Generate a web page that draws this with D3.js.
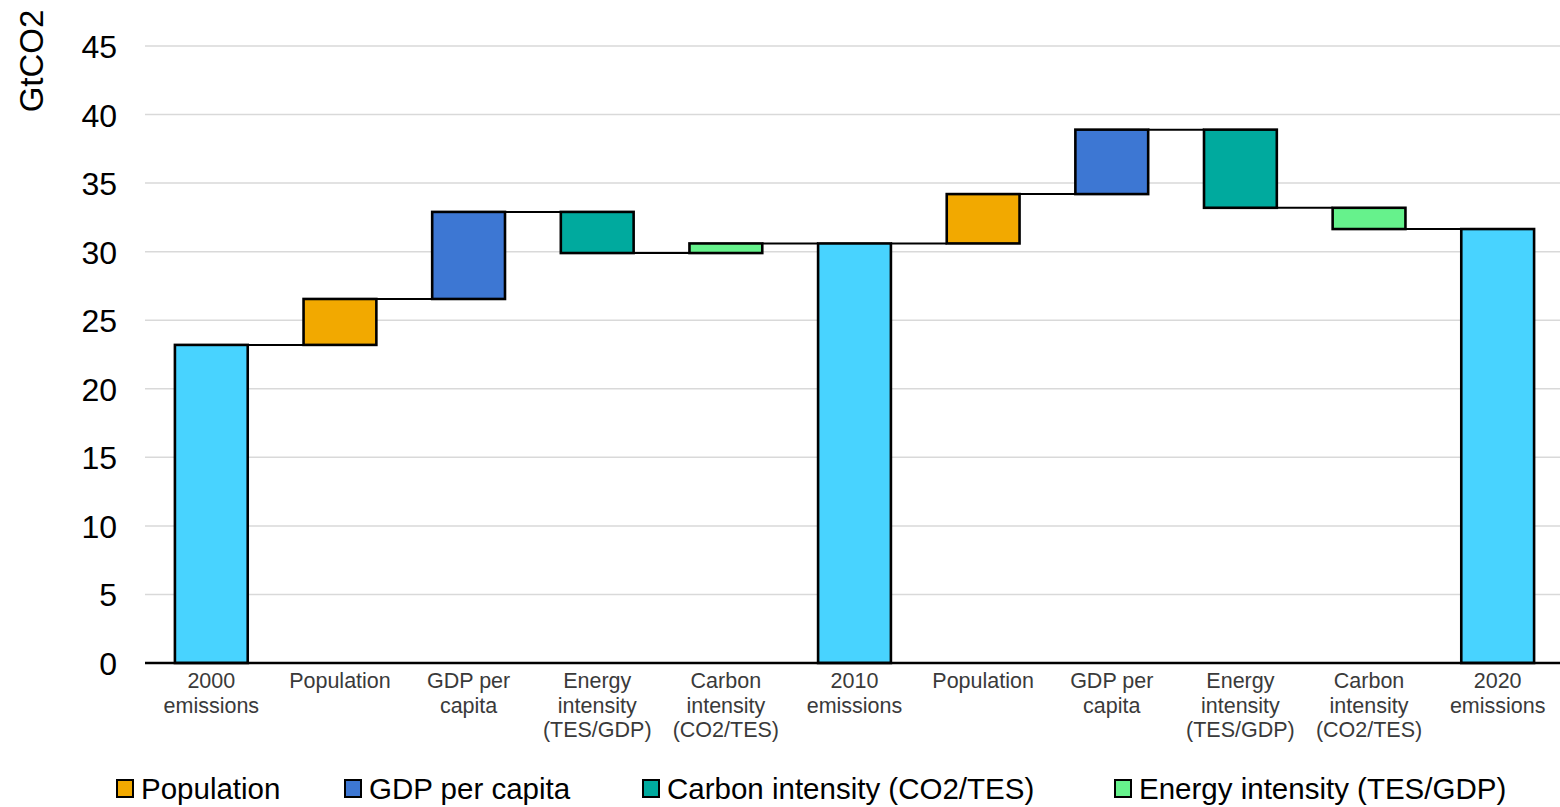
<!DOCTYPE html>
<html><head><meta charset="utf-8">
<script src="https://cdn.jsdelivr.net/npm/d3@7"></script>
<style>body{margin:0;background:#fff;} svg{display:block;font-family:"Liberation Sans",Arial,sans-serif;}</style>
</head><body>
<svg id="c" width="1560" height="807"></svg>
<script>
const categories = [["2000","emissions"],["Population"],["GDP per","capita"],["Energy","intensity","(TES/GDP)"],["Carbon","intensity","(CO2/TES)"],["2010","emissions"],["Population"],["GDP per","capita"],["Energy","intensity","(TES/GDP)"],["Carbon","intensity","(CO2/TES)"],["2020","emissions"]];
const kinds = ["total","pop","gdp","carbon","energy","total","pop","gdp","carbon","energy","total"];
const changes = [23.2, 3.35, 6.35, -3.0, 0.7, 0, 3.6, 4.7, -5.7, -1.55, 0];
const yTicks = [0,5,10,15,20,25,30,35,40,45];
const legendKeys = ["pop","gdp","carbon","energy"];
const legendLabels = ["Population","GDP per capita","Carbon intensity (CO2/TES)","Energy intensity (TES/GDP)"];
const colors = {total:"#48D3FF", pop:"#F2A900", gdp:"#3D77D3", carbon:"#00AA9E", energy:"#66F28C"};

const svg = d3.select("#c");
const x = d3.scaleBand().domain(d3.range(categories.length)).range([147,1562]).paddingInner(0.434).paddingOuter(0.217);
const y = d3.scaleLinear().domain([0,45]).range([663,46]);

let run = 0; const bars = [];
changes.forEach((c,i)=>{
  if(kinds[i]==="total"){ if(i===0) run = c; bars.push({i, y0:0, y1:run}); }
  else { const s = run; run = run + c; bars.push({i, y0:s, y1:run}); }
});

svg.append("g").selectAll("line").data(yTicks.filter(d=>d>0)).join("line")
  .attr("x1",145).attr("x2",1560).attr("y1",d=>y(d)).attr("y2",d=>y(d))
  .attr("stroke","#d9d9d9").attr("stroke-width",1.5);

const yAxis = svg.append("g").attr("transform","translate(117,0)")
  .call(d3.axisLeft(y).tickValues(yTicks).tickSize(0).tickPadding(0));
yAxis.select(".domain").remove();
yAxis.selectAll("text").attr("font-size",32).attr("fill","#000").attr("font-family","Liberation Sans, Arial, sans-serif").attr("dy","0.36em");

svg.append("text").attr("transform","translate(43,61) rotate(-90)").attr("text-anchor","middle")
  .attr("font-size",33).attr("fill","#000").text("GtCO2");

for(let k=0;k<bars.length-1;k++){
  const lvl = bars[k].y1;
  svg.append("line").attr("x1",x(k)+x.bandwidth()).attr("x2",x(k+1))
    .attr("y1",y(lvl)).attr("y2",y(lvl)).attr("stroke","#000").attr("stroke-width",2);
}

svg.append("g").selectAll("rect").data(bars).join("rect")
  .attr("x",d=>x(d.i)).attr("width",x.bandwidth())
  .attr("y",d=>y(Math.max(d.y0,d.y1))).attr("height",d=>Math.abs(y(d.y0)-y(d.y1)))
  .attr("fill",d=>colors[kinds[d.i]]).attr("stroke","#000").attr("stroke-width",2.6);

svg.append("line").attr("x1",145).attr("x2",1560).attr("y1",y(0)).attr("y2",y(0)).attr("stroke","#000").attr("stroke-width",2.5);

const xl = svg.append("g");
categories.forEach((lines,i)=>{
  const t = xl.append("text").attr("x",x(i)+x.bandwidth()/2).attr("y",688).attr("text-anchor","middle")
    .attr("font-size",21.5).attr("fill","#3a3a3a");
  lines.forEach((l,j)=>t.append("tspan").attr("x",x(i)+x.bandwidth()/2).attr("dy",j===0?0:24.5).text(l));
});

const lx = [117, 345, 643, 1115];
legendKeys.forEach((k,i)=>{
  svg.append("rect").attr("x",lx[i]).attr("y",780).attr("width",16).attr("height",17)
    .attr("fill",colors[k]).attr("stroke","#000").attr("stroke-width",2);
  svg.append("text").attr("x",lx[i]+24).attr("y",799).attr("font-size",29.5).attr("fill","#000").text(legendLabels[i]);
});
</script>
</body></html>
